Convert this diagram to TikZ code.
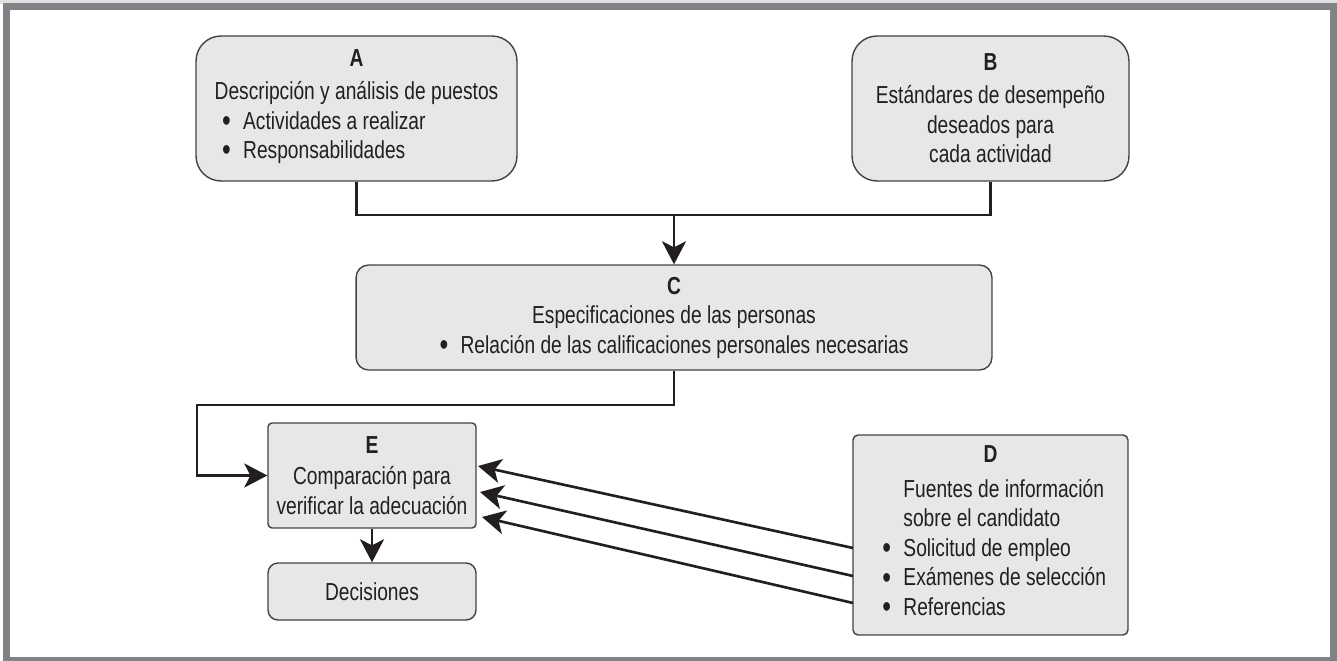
\documentclass[tikz,border=0pt]{standalone}
\usepackage{fontspec}
\setmainfont{Liberation Sans}[FakeStretch=0.78]
\usetikzlibrary{arrows.meta}
\usepackage{xcolor}
\definecolor{cajagris}{HTML}{E6E7E8}
\definecolor{marcogris}{HTML}{808285}
\definecolor{tinta}{HTML}{231F20}
\newcommand{\punto}{\raisebox{-0.09em}{\scalebox{1.3}{\textbullet}}}
\newcommand{\bul}{\hspace*{0.15cm}\punto\enspace}
\newcommand{\nobul}{\hspace*{0.15cm}\phantom{\punto}\enspace}

\begin{document}
\begin{tikzpicture}[x=0.02cm, y=-0.02cm,
    caja/.style={draw=tinta!85, line width=0.8pt, fill=cajagris, text=tinta, inner sep=0pt, align=center, font=\fontsize{14}{16.8}\selectfont},
    flecha/.style={draw=tinta, line width=1.5pt, -{Stealth[length=0.46cm, width=0.48cm, inset=0.12cm]}},
    linea/.style={draw=tinta, line width=1.5pt}]
    \useasboundingbox (0,0) rectangle (1337,661);
    % Marco
    \fill[marcogris!25] (0,0) rectangle (1337,4);
    \draw[marcogris, line width=0.14cm] (6.5,7) rectangle (1333,660);

    % Bloques
    \node[caja, minimum width=6.42cm, minimum height=2.9cm, rounded corners=0.5cm] (A) at (356.5,108.5)
        {\textbf{A}\\[2pt]\begin{tabular}[t]{@{}l@{}}Descripción y análisis de puestos\\ \bul Actividades a realizar\\ \bul Responsabilidades\end{tabular}};
    \node[caja, minimum width=5.54cm, minimum height=2.9cm, rounded corners=0.5cm] (B) at (990.5,108.5)
        {\textbf{B}\\[2pt] Estándares de desempeño\\ deseados para\\ cada actividad};
    \node[caja, minimum width=12.72cm, minimum height=2.1cm, rounded corners=0.25cm] (C) at (674,317.5)
        {\textbf{C}\\ Especificaciones de las personas\\ \punto\enspace Relación de las calificaciones personales necesarias};
    \node[caja, minimum width=4.16cm, minimum height=2.1cm, rounded corners=0.08cm] (E) at (372,475.5)
        {\textbf{E}\\[1pt] Comparación para\\ verificar la adecuación};
    \node[caja, minimum width=4.16cm, minimum height=1.14cm, rounded corners=0.2cm] (dec) at (372,591.5)
        {Decisiones};
    \node[caja, minimum width=5.5cm, minimum height=4cm, rounded corners=0.1cm] (D) at (990.5,535)
        {\textbf{D}\\[3pt]\begin{tabular}[t]{@{}l@{}}\nobul Fuentes de información\\ \nobul sobre el candidato\\ \bul Solicitud de empleo\\ \bul Exámenes de selección\\ \bul Referencias\end{tabular}};

    % Puntos de apoyo
    \coordinate (union) at (674,215);
    \coordinate (vuelta) at (197,405);
    \coordinate (d1) at (853,548);
    \coordinate (d2) at (853,576);
    \coordinate (d3) at (853,603);
    \coordinate (e1) at (478,466);
    \coordinate (e2) at (480,492);
    \coordinate (e3) at (482,517);

    % Conexiones
    \draw[linea] (A.south) |- (union) -| (B.south);
    \draw[flecha] (union) -- (C.north);
    \draw[flecha] (C.south) |- (vuelta) |- (E.west);
    \draw[flecha] (E) -- (dec);
    \draw[flecha] (d1) -- (e1);
    \draw[flecha] (d2) -- (e2);
    \draw[flecha] (d3) -- (e3);

\end{tikzpicture}
\end{document}
